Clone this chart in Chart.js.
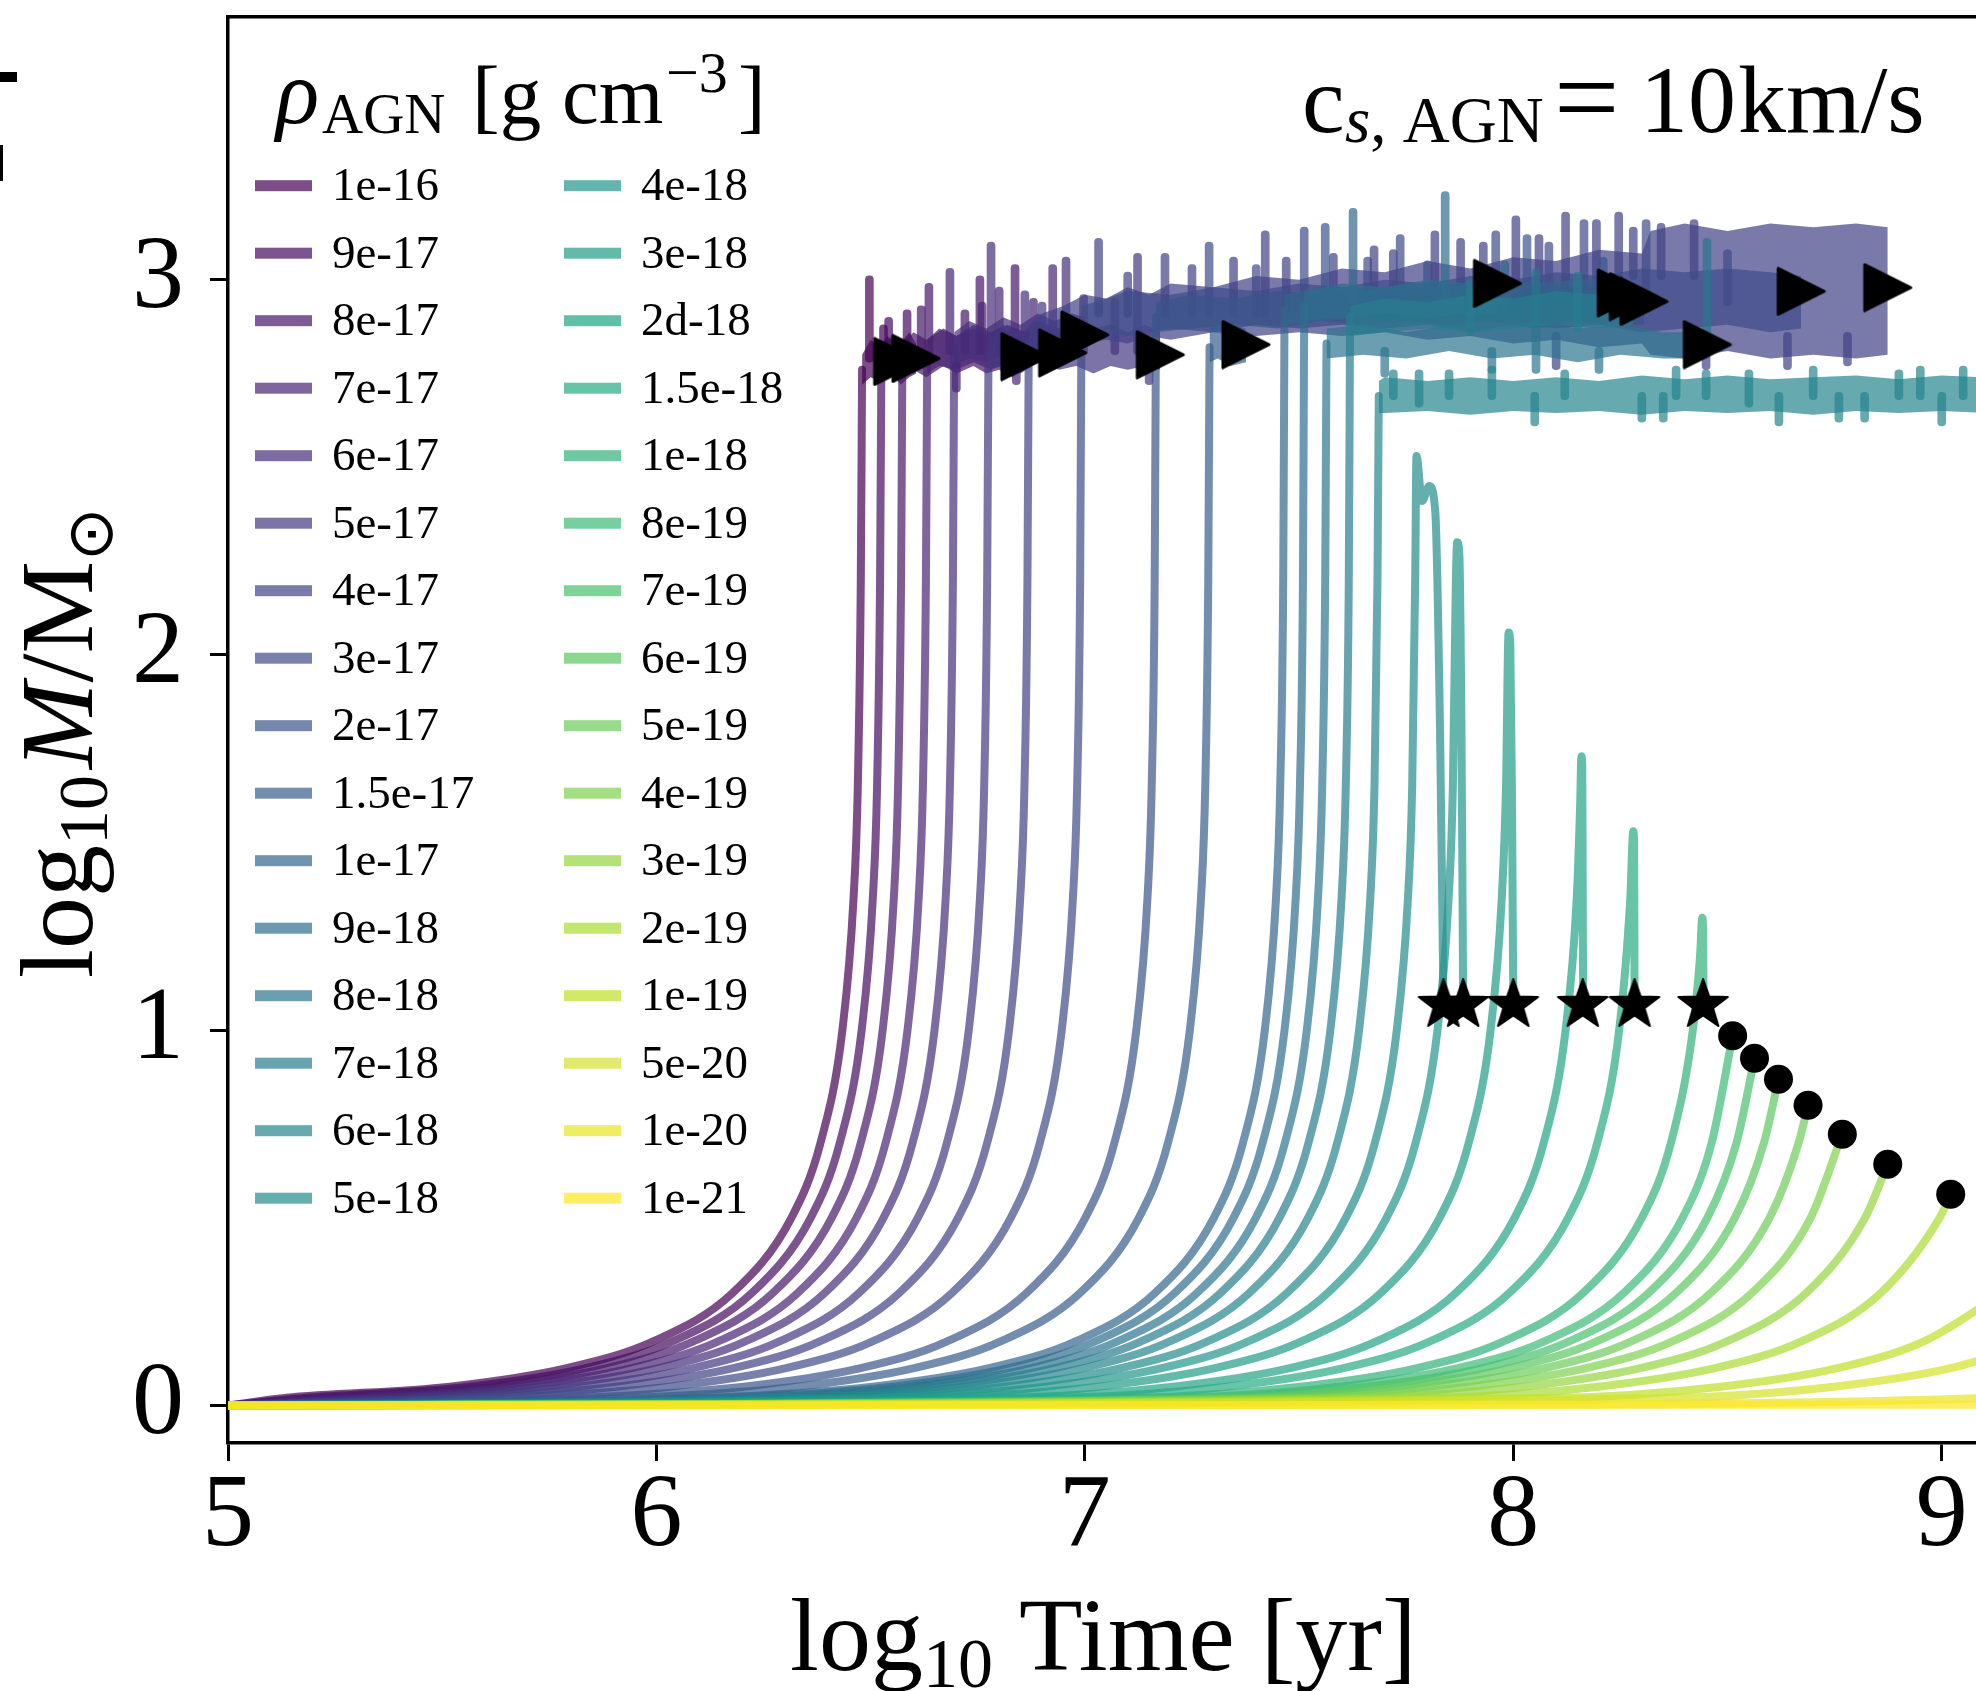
<!DOCTYPE html>
<html>
<head>
<meta charset="utf-8">
<script src="https://cdn.jsdelivr.net/npm/chart.js@4.4.1/dist/chart.umd.min.js"></script>
<style>
  html, body { margin: 0; padding: 0; background: #fff; overflow: hidden; }
</style>
</head>
<body>
<canvas id="mass-chart" width="1976" height="1691"></canvas>
<script>
// AGN densities, one run each (legend order)
const densityLabels = ['1e-16', '9e-17', '8e-17', '7e-17', '6e-17', '5e-17', '4e-17', '3e-17',
  '2e-17', '1.5e-17', '1e-17', '9e-18', '8e-18', '7e-18', '6e-18', '5e-18',
  '4e-18', '3e-18', '2d-18', '1.5e-18', '1e-18', '8e-19', '7e-19', '6e-19',
  '5e-19', '4e-19', '3e-19', '2e-19', '1e-19', '5e-20', '1e-20', '1e-21'];

const xTicks = [5, 6, 7, 8, 9];
const yTicks = [0, 1, 2, 3];

// growth phase of every run: [log10 t, log10 M/Msun]
const growth = [
  [[5,0],[5.133,.02],[5.518,.05],[5.793,.1],[5.991,.17],[6.178,.3],[6.315,.5],[6.383,.7],[6.434,1],[6.460,1.35],[6.470,1.65],[6.477,2.2],[6.480,2.76]],
  [[5,0],[5.178,.02],[5.563,.05],[5.838,.1],[6.036,.17],[6.223,.3],[6.360,.5],[6.428,.7],[6.479,1],[6.505,1.35],[6.515,1.65],[6.522,2.2],[6.525,2.77]],
  [[5,0],[5.227,.02],[5.612,.05],[5.887,.1],[6.085,.17],[6.272,.3],[6.409,.5],[6.477,.7],[6.528,1],[6.554,1.35],[6.564,1.65],[6.571,2.2],[6.574,2.78]],
  [[5,0],[5.285,.02],[5.670,.05],[5.945,.1],[6.143,.17],[6.330,.3],[6.467,.5],[6.535,.7],[6.586,1],[6.612,1.35],[6.622,1.65],[6.629,2.2],[6.632,2.79]],
  [[5,0],[5.348,.02],[5.733,.05],[6.008,.1],[6.206,.17],[6.393,.3],[6.530,.5],[6.598,.7],[6.649,1],[6.675,1.35],[6.685,1.65],[6.692,2.2],[6.695,2.82]],
  [[5,0],[5.428,.02],[5.813,.05],[6.088,.1],[6.286,.17],[6.473,.3],[6.610,.5],[6.678,.7],[6.729,1],[6.755,1.35],[6.765,1.65],[6.772,2.2],[6.775,2.80]],
  [[5,0],[5.522,.02],[5.907,.05],[6.182,.1],[6.380,.17],[6.567,.3],[6.704,.5],[6.772,.7],[6.823,1],[6.849,1.35],[6.859,1.65],[6.866,2.2],[6.869,2.83]],
  [[5,0],[5.645,.02],[6.030,.05],[6.305,.1],[6.503,.17],[6.690,.3],[6.827,.5],[6.895,.7],[6.946,1],[6.972,1.35],[6.982,1.65],[6.989,2.2],[6.992,2.88]],
  [[5,0],[5.819,.02],[6.204,.05],[6.479,.1],[6.677,.17],[6.864,.3],[7.001,.5],[7.069,.7],[7.120,1],[7.146,1.35],[7.156,1.65],[7.163,2.2],[7.166,2.90]],
  [[5,0],[5.944,.02],[6.329,.05],[6.604,.1],[6.802,.17],[6.989,.3],[7.126,.5],[7.194,.7],[7.245,1],[7.271,1.35],[7.281,1.65],[7.288,2.2],[7.291,2.82]],
  [[5,0],[6.119,.02],[6.504,.05],[6.779,.1],[6.977,.17],[7.164,.3],[7.301,.5],[7.369,.7],[7.420,1],[7.446,1.35],[7.456,1.65],[7.463,2.2],[7.466,2.92]],
  [[5,0],[6.165,.02],[6.550,.05],[6.825,.1],[7.023,.17],[7.210,.3],[7.347,.5],[7.415,.7],[7.466,1],[7.492,1.35],[7.502,1.65],[7.509,2.2],[7.512,2.93]],
  [[5,0],[6.217,.02],[6.602,.05],[6.877,.1],[7.075,.17],[7.262,.3],[7.399,.5],[7.467,.7],[7.518,1],[7.544,1.35],[7.554,1.65],[7.561,2.2],[7.564,2.83]],
  [[5,0],[6.272,.02],[6.657,.05],[6.932,.1],[7.130,.17],[7.317,.3],[7.454,.5],[7.522,.7],[7.573,1],[7.599,1.35],[7.609,1.65],[7.616,2.2],[7.619,2.90]],
  [[5,0],[6.339,.02],[6.724,.05],[6.999,.1],[7.197,.17],[7.384,.3],[7.521,.5],[7.589,.7],[7.640,1],[7.666,1.35],[7.676,1.65],[7.683,2.2],[7.686,2.69]],
  [[5,0],[6.427,.02],[6.812,.05],[7.087,.1],[7.285,.17],[7.472,.3],[7.609,.5],[7.677,.7],[7.728,1],[7.754,1.35],[7.764,1.65],[7.771,2.2],[7.774,2.53],[7.787,2.41],[7.804,2.45],[7.818,2.38],[7.829,1.8],[7.837,1.07]],
  [[5,0],[6.522,.02],[6.907,.05],[7.182,.1],[7.380,.17],[7.567,.3],[7.704,.5],[7.772,.7],[7.823,1],[7.849,1.35],[7.859,1.65],[7.866,2.2],[7.869,2.30],[7.874,2.27],[7.879,1.8],[7.883,1.07]],
  [[5,0],[6.646,.02],[7.031,.05],[7.306,.1],[7.504,.17],[7.691,.3],[7.828,.5],[7.896,.7],[7.947,1],[7.973,1.35],[7.983,1.65],[7.989,2.06],[7.993,2.03],[7.997,1.6],[8.000,1.07]],
  [[5,0],[6.821,.02],[7.206,.05],[7.481,.1],[7.679,.17],[7.866,.3],[8.003,.5],[8.071,.7],[8.122,1],[8.148,1.35],[8.156,1.6],[8.159,1.73],[8.161,1.70],[8.162,1.4],[8.163,1.07]],
  [[5,0],[6.946,.02],[7.331,.05],[7.606,.1],[7.804,.17],[7.991,.3],[8.128,.5],[8.196,.7],[8.247,1],[8.273,1.35],[8.280,1.53],[8.282,1.50],[8.283,1.07]],
  [[5,0],[7.118,.02],[7.503,.05],[7.778,.1],[7.976,.17],[8.163,.3],[8.300,.5],[8.368,.7],[8.419,1],[8.436,1.2],[8.441,1.30],[8.443,1.27],[8.444,1.07]],
  [[5,0],[7.213,.02],[7.598,.05],[7.873,.1],[8.071,.17],[8.258,.3],[8.395,.5],[8.463,.7],[8.512,.985]],
  [[5,0],[7.271,.02],[7.656,.05],[7.931,.1],[8.129,.17],[8.316,.3],[8.453,.5],[8.521,.7],[8.563,.925]],
  [[5,0],[7.335,.02],[7.720,.05],[7.995,.1],[8.193,.17],[8.380,.3],[8.517,.5],[8.585,.7],[8.619,.869]],
  [[5,0],[7.416,.02],[7.801,.05],[8.076,.1],[8.274,.17],[8.461,.3],[8.598,.5],[8.666,.7],[8.688,.800]],
  [[5,0],[7.512,.02],[7.897,.05],[8.172,.1],[8.370,.17],[8.557,.3],[8.694,.5],[8.768,.723]],
  [[5,0],[7.639,.02],[8.024,.05],[8.299,.1],[8.497,.17],[8.684,.3],[8.821,.5],[8.874,.643]],
  [[5,0],[7.813,.02],[8.198,.05],[8.473,.1],[8.671,.17],[8.858,.3],[8.995,.5],[9.021,.563]],
  [[5,0],[8.099,.02],[8.484,.05],[8.759,.1],[8.957,.17],[9.144,.3]],
  [[5,0],[8.363,.02],[8.748,.05],[9.023,.1],[9.221,.17]],
  [[5,0],[8.0,.002],[9.103,.02],[9.3,.032]],
  [[5,0],[9.2,.002]]
];

// noisy saturated phase (runs 0-14): band edges
const plateauX = [
  [6.480, 6.50, 6.52, 6.54, 6.563],
  [6.525, 6.55, 6.57, 6.59, 6.606],
  [6.574, 6.60, 6.63, 6.67, 6.70, 6.74, 6.77, 6.80, 6.83, 6.860],
  [6.632, 6.66, 6.70, 6.74, 6.78, 6.82, 6.86, 6.90, 6.948],
  [6.695, 6.73, 6.77, 6.81, 6.85, 6.89, 6.93, 6.97, 7.000],
  [6.775, 6.81, 6.85, 6.89, 6.94, 6.98, 7.02, 7.06, 7.10, 7.14, 7.176],
  [6.869, 6.90, 6.95, 7.0, 7.05, 7.1, 7.15, 7.2, 7.3, 7.4, 7.5, 7.6, 7.7, 7.8, 7.9, 8.0, 8.1, 8.2, 8.3, 8.32, 8.4, 8.5, 8.6, 8.7, 8.8, 8.874],
  [6.992, 7.05, 7.1, 7.2, 7.3, 7.4, 7.5, 7.6, 7.7, 7.8, 7.9, 8.0, 8.1, 8.2, 8.3, 8.4, 8.5, 8.6, 8.672],
  [7.166, 7.25, 7.35, 7.45, 7.55, 7.65, 7.75, 7.85, 7.95, 8.05, 8.15, 8.25, 8.305],
  [7.291, 7.31, 7.34, 7.376],
  [7.466, 7.55, 7.65, 7.75, 7.85, 7.95, 8.05, 8.15, 8.252],
  [7.512, 7.6, 7.7, 7.8, 7.9, 7.963],
  [7.564, 7.65, 7.75, 7.85, 7.95, 8.05, 8.15, 8.25, 8.35, 8.453],
  [7.619, 7.7, 7.8, 7.9, 8.0, 8.1, 8.2, 8.28],
  [7.686, 7.70, 7.8, 7.9, 8.0, 8.1, 8.2, 8.3, 8.4, 8.5, 8.6, 8.7, 8.8, 8.9, 9.0, 9.1]
];
const plateauHi = [
  [2.80, 2.84, 2.82, 2.85, 2.82],
  [2.82, 2.85, 2.83, 2.86, 2.83],
  [2.83, 2.86, 2.84, 2.87, 2.85, 2.87, 2.85, 2.87, 2.86, 2.84],
  [2.84, 2.87, 2.85, 2.88, 2.86, 2.88, 2.86, 2.88, 2.86],
  [2.86, 2.89, 2.87, 2.90, 2.88, 2.91, 2.89, 2.91, 2.90],
  [2.85, 2.88, 2.86, 2.89, 2.87, 2.89, 2.87, 2.88, 2.86, 2.88, 2.86],
  [2.88, 2.91, 2.93, 2.96, 2.95, 2.98, 2.96, 2.99, 2.98, 3.01, 3.00, 3.03, 3.02, 3.05, 3.03, 3.06, 3.05, 3.08, 3.07, 3.13, 3.15, 3.13, 3.15, 3.14, 3.15, 3.14],
  [2.93, 2.95, 2.97, 2.96, 2.98, 2.97, 2.99, 2.98, 3.00, 2.99, 3.01, 3.00, 3.02, 3.01, 3.03, 3.02, 3.03, 3.02, 3.01],
  [2.94, 2.96, 2.95, 2.97, 2.96, 2.98, 2.97, 2.99, 2.98, 2.99, 2.98, 2.99, 2.98],
  [2.87, 2.89, 2.88, 2.87],
  [2.96, 2.98, 2.97, 2.99, 2.98, 3.00, 2.99, 3.00, 3.00],
  [2.97, 2.99, 2.98, 3.00, 2.99, 3.01],
  [2.87, 2.88, 2.86, 2.88, 2.87, 2.89, 2.87, 2.88, 2.86, 2.86],
  [2.93, 2.95, 2.94, 2.96, 2.95, 2.97, 2.96, 2.97],
  [2.73, 2.74, 2.73, 2.74, 2.73, 2.74, 2.73, 2.745, 2.735, 2.745, 2.735, 2.74, 2.745, 2.735, 2.745, 2.74]
];
const plateauLo = [
  [2.72, 2.74, 2.73, 2.75, 2.74],
  [2.73, 2.75, 2.72, 2.74, 2.75],
  [2.74, 2.76, 2.74, 2.77, 2.75, 2.77, 2.75, 2.76, 2.74, 2.76],
  [2.75, 2.77, 2.76, 2.78, 2.76, 2.78, 2.77, 2.78, 2.77],
  [2.77, 2.79, 2.78, 2.80, 2.79, 2.81, 2.80, 2.81, 2.81],
  [2.76, 2.77, 2.75, 2.78, 2.76, 2.77, 2.75, 2.77, 2.76, 2.77, 2.76],
  [2.79, 2.81, 2.80, 2.83, 2.84, 2.83, 2.85, 2.84, 2.86, 2.85, 2.86, 2.85, 2.86, 2.84, 2.85, 2.83, 2.84, 2.82, 2.83, 2.80, 2.79, 2.81, 2.79, 2.80, 2.79, 2.80],
  [2.84, 2.86, 2.85, 2.87, 2.86, 2.88, 2.87, 2.88, 2.87, 2.88, 2.86, 2.88, 2.87, 2.88, 2.86, 2.87, 2.88, 2.86, 2.87],
  [2.86, 2.87, 2.88, 2.87, 2.89, 2.88, 2.89, 2.88, 2.89, 2.87, 2.89, 2.88, 2.88],
  [2.78, 2.79, 2.77, 2.78],
  [2.88, 2.89, 2.90, 2.89, 2.90, 2.89, 2.90, 2.89, 2.90],
  [2.89, 2.90, 2.91, 2.90, 2.91, 2.91],
  [2.79, 2.80, 2.79, 2.81, 2.79, 2.80, 2.78, 2.80, 2.79, 2.79],
  [2.85, 2.86, 2.87, 2.86, 2.87, 2.88, 2.87, 2.88],
  [2.645, 2.645, 2.65, 2.64, 2.65, 2.645, 2.65, 2.64, 2.65, 2.645, 2.65, 2.64, 2.65, 2.645, 2.65, 2.645]
];
// single excursions out of the band: [log10 t, from, to]
const spikes = [
  [[6.497, 2.78, 3.01], [6.530, 2.78, 2.88]],
  [[6.542, 2.78, 2.90], [6.585, 2.78, 2.92]],
  [[6.618, 2.80, 2.93], [6.636, 2.80, 2.99], [6.72, 2.80, 2.92], [6.755, 2.80, 3.01], [6.837, 2.80, 3.04], [6.70, 2.70, 2.78]],
  [[6.685, 2.80, 3.03], [6.76, 2.80, 2.94], [6.800, 2.80, 2.98], [6.88, 2.80, 2.95], [6.925, 2.80, 3.04], [6.84, 2.72, 2.80]],
  [[6.781, 2.83, 3.10], [6.86, 2.83, 2.97], [6.956, 2.84, 3.06]],
  [[6.90, 2.80, 2.94], [6.997, 2.80, 2.96], [7.07, 2.80, 2.95], [7.123, 2.80, 3.07], [7.15, 2.72, 2.80]],
  [[7.032, 2.90, 3.11], [7.10, 2.90, 3.02], [7.187, 2.90, 3.07], [7.25, 2.90, 3.04], [7.347, 2.90, 3.06],
   [7.421, 2.90, 3.13], [7.47, 2.92, 3.06], [7.58, 2.92, 3.07], [7.675, 2.92, 3.09], [7.72, 2.92, 3.08],
   [7.817, 2.95, 3.13], [7.877, 2.95, 3.11], [7.93, 2.95, 3.10], [8.006, 2.95, 3.17], [8.06, 2.95, 3.12],
   [8.122, 2.95, 3.18], [8.194, 2.95, 3.16], [8.246, 3.00, 3.18], [8.28, 3.00, 3.14], [8.345, 3.00, 3.15],
   [8.422, 3.00, 3.16], [8.10, 2.76, 2.86], [8.45, 2.76, 2.84], [8.64, 2.76, 2.86], [8.78, 2.77, 2.86]],
  [[7.290, 2.90, 3.10], [7.40, 2.90, 3.04], [7.512, 2.92, 3.14], [7.66, 2.92, 3.06], [7.736, 2.92, 3.12],
   [7.959, 2.93, 3.13], [8.083, 2.93, 3.10], [8.165, 2.93, 3.16], [8.310, 2.93, 3.16], [8.50, 2.93, 3.08]],
  [[7.561, 2.92, 3.15], [7.80, 2.92, 3.05], [8.032, 2.92, 3.12], [8.21, 2.92, 3.06]],
  [],
  [[7.626, 2.92, 3.19], [7.98, 2.92, 3.05]],
  [[7.841, 2.93, 3.235]],
  [[8.053, 2.75, 3.03], [8.452, 2.80, 3.11], [7.70, 2.74, 2.82], [7.95, 2.75, 2.82], [8.20, 2.75, 2.82]],
  [[7.900, 2.85, 3.00], [8.15, 2.86, 3.02]],
  [[7.72, 2.68, 2.76], [7.78, 2.66, 2.76], [7.85, 2.68, 2.76], [7.95, 2.68, 2.77], [8.05, 2.61, 2.70],
   [8.12, 2.68, 2.76], [8.30, 2.62, 2.70], [8.35, 2.62, 2.70], [8.38, 2.68, 2.77], [8.45, 2.68, 2.76],
   [8.55, 2.66, 2.76], [8.62, 2.61, 2.70], [8.70, 2.68, 2.77], [8.76, 2.62, 2.70], [8.82, 2.62, 2.70],
   [8.90, 2.68, 2.76], [8.95, 2.68, 2.77], [9.00, 2.61, 2.70], [9.05, 2.68, 2.77]]
];

// end-of-run markers
const triX = [6.563, 6.606, 6.860, 6.948, 7.000, 7.176, 8.874, 8.672, 8.305, 7.376, 8.252, 7.963, 8.453, 8.28];
const triY = [2.782, 2.790, 2.795, 2.805, 2.853, 2.800, 2.979, 2.969, 2.942, 2.827, 2.965, 2.990, 2.827, 2.955];
const starX = [7.837, 7.883, 8.000, 8.162, 8.283, 8.443];
const starY = [1.07, 1.07, 1.07, 1.07, 1.07, 1.07];
const dotX = [8.512, 8.563, 8.619, 8.688, 8.768, 8.874, 9.021];
const dotY = [0.985, 0.925, 0.869, 0.800, 0.723, 0.643, 0.563];

// viridis colour map with alpha, like the original plot
const viridisStops = ['#440154', '#482475', '#414487', '#355f8d', '#2a788e', '#21918c',
  '#22a884', '#44bf70', '#7ad151', '#bddf26', '#fde725'];
function viridis(t, a) {
  const p = t * 10;
  const i = Math.min(9, Math.floor(p));
  const f = p - i;
  const c0 = parseInt(viridisStops[i].slice(1), 16);
  const c1 = parseInt(viridisStops[i + 1].slice(1), 16);
  const ch = (c, s) => (c >> s) & 255;
  const mix = s => Math.round(ch(c0, s) + (ch(c1, s) - ch(c0, s)) * f);
  return `rgba(${mix(16)},${mix(8)},${mix(0)},${a})`;
}
const colors = densityLabels.map((_, i) => viridis(i / (densityLabels.length - 1), 0.7));

function markerCanvas(w, h, draw) {
  const c = document.createElement('canvas');
  c.width = w; c.height = h;
  const g = c.getContext('2d');
  g.fillStyle = '#000';
  g.strokeStyle = '#000';
  draw(g);
  return c;
}
const triImg = markerCanvas(52, 50, g => {
  g.lineJoin = 'round'; g.lineWidth = 3;
  g.beginPath(); g.moveTo(3, 2); g.lineTo(49, 25); g.lineTo(3, 48); g.closePath();
  g.fill(); g.stroke();
});
const starImg = markerCanvas(58, 58, g => {
  g.beginPath();
  for (let k = 0; k < 10; k++) {
    const r = k % 2 === 0 ? 26 : 10.5;
    const a = -Math.PI / 2 + k * Math.PI / 5;
    const px = 29 + r * Math.cos(a), py = 30 + r * Math.sin(a);
    if (k === 0) g.moveTo(px, py); else g.lineTo(px, py);
  }
  g.closePath(); g.lineJoin = 'round'; g.lineWidth = 2; g.fill(); g.stroke();
});

const LW = 8;
const datasets = [];
growth.forEach((pts, i) => {
  const order = 100 - i;
  datasets.push({
    type: 'line', label: densityLabels[i], data: pts, order,
    borderColor: colors[i], borderWidth: LW, borderCapStyle: 'round', borderJoinStyle: 'round',
    cubicInterpolationMode: 'monotone', pointRadius: 0, fill: false
  });
  if (plateauX[i]) {
    datasets.push({
      type: 'line', data: plateauX[i].map((x, k) => [x, plateauHi[i][k]]), order,
      borderColor: 'transparent', pointRadius: 0, fill: false, tension: 0
    });
    datasets.push({
      type: 'line', data: plateauX[i].map((x, k) => [x, plateauLo[i][k]]), order,
      borderColor: 'transparent', backgroundColor: colors[i], pointRadius: 0, fill: '-1', tension: 0
    });
    datasets.push({
      type: 'bar', data: spikes[i].map(s => ({ x: s[0], y: [s[1], s[2]] })), order,
      backgroundColor: colors[i], barThickness: LW, borderRadius: 4, borderSkipped: false, grouped: false
    });
  }
});
datasets.push({
  type: 'scatter', data: triX.map((x, k) => ({ x, y: triY[k] })), order: -1,
  pointStyle: triImg, pointRadius: 25
});
datasets.push({
  type: 'scatter', data: starX.map((x, k) => ({ x, y: starY[k] })), order: -1,
  pointStyle: starImg, pointRadius: 25
});
datasets.push({
  type: 'scatter', data: dotX.map((x, k) => ({ x, y: dotY[k] })), order: -1,
  pointStyle: 'circle', pointRadius: 14.5, backgroundColor: '#000', borderWidth: 0
});

const SERIF = '"Liberation Serif", "Times New Roman", serif';

function drawParts(ctx, x, y, parts) {
  let cx = x;
  for (const p of parts) {
    ctx.font = p.font;
    if (p.at !== undefined) cx = p.at;
    ctx.fillText(p.text, cx, y + (p.dy || 0));
    cx += ctx.measureText(p.text).width + (p.gap || 0);
  }
}

const textPlugin = {
  id: 'figureText',
  afterDraw(chart) {
    const { ctx } = chart;
    ctx.save();
    ctx.fillStyle = '#000';
    ctx.textBaseline = 'alphabetic';
    ctx.textAlign = 'left';

    // x axis title
    drawParts(ctx, 790, 1670, [
      { text: 'log', font: `104px ${SERIF}` },
      { text: '10', font: `70px ${SERIF}`, dy: 17 },
      { text: ' Time [yr]', font: `104px ${SERIF}` }
    ]);

    // y axis title (rotated)
    ctx.save();
    ctx.translate(92, 978);
    ctx.rotate(-Math.PI / 2);
    drawParts(ctx, 0, 0, [
      { text: 'log', font: `104px ${SERIF}` },
      { text: '10', font: `70px ${SERIF}`, dy: 15, gap: 6 },
      { text: 'M', font: `italic 104px ${SERIF}` },
      { text: '/', font: `104px ${SERIF}` },
      { text: 'M', font: `104px ${SERIF}` },
      { text: '\u2299', font: '64px "DejaVu Sans"', dy: 20 }
    ]);
    ctx.restore();

    // legend title
    drawParts(ctx, 276, 123, [
      { text: '\u03c1', font: `italic 90px ${SERIF}` },
      { text: 'AGN', font: `57px ${SERIF}`, dy: 10, at: 322 },
      { text: '[g cm', font: `83px ${SERIF}`, at: 472 },
      { text: '\u22123', font: `58px ${SERIF}`, dy: -31, at: 666 },
      { text: ']', font: `83px ${SERIF}`, at: 738 }
    ]);

    // legend entries, two columns of 16
    ctx.font = `47px ${SERIF}`;
    ctx.textBaseline = 'middle';
    densityLabels.forEach((lab, i) => {
      const col = Math.floor(i / 16), row = i % 16;
      const y = 185.7 + row * 67.5;
      const hx = col === 0 ? 255 : 564;
      ctx.fillStyle = colors[i];
      ctx.fillRect(hx, y - 5.5, 57, 11);
      ctx.fillStyle = '#000';
      ctx.fillText(lab, hx + 77, y + 2);
    });

    // sound speed annotation
    ctx.textBaseline = 'alphabetic';
    drawParts(ctx, 1302, 132, [
      { text: 'c', font: `96px ${SERIF}` },
      { text: 's', font: `italic 65px ${SERIF}`, dy: 10, at: 1345 },
      { text: ', AGN', font: `65px ${SERIF}`, dy: 10 },
      { text: '=', font: `116px ${SERIF}`, dy: 4, at: 1554 },
      { text: '10', font: `96px ${SERIF}`, at: 1640 },
      { text: 'km/s', font: `96px ${SERIF}`, at: 1738 }
    ]);

    // fragments of the neighbouring panel at the left edge
    ctx.fillRect(0, 72, 17, 10);
    ctx.fillRect(0, 145, 3, 36);
    ctx.restore();
  }
};

Chart.defaults.font.family = SERIF;
Chart.defaults.color = '#000';

new Chart(document.getElementById('mass-chart'), {
  type: 'line',
  data: { datasets },
  options: {
    responsive: false,
    animation: false,
    devicePixelRatio: 1,
    layout: { autoPadding: false, padding: { left: 0, right: 0, top: 17, bottom: 0 } },
    plugins: { legend: { display: false }, tooltip: { enabled: false } },
    scales: {
      x: {
        type: 'linear', position: 'bottom', min: 5, max: 9.08, offset: false,
        afterBuildTicks: s => { s.ticks = xTicks.map(v => ({ value: v })); },
        afterFit: s => { s.height = 248; s.paddingLeft = 0; s.paddingRight = 0; },
        ticks: { font: { size: 104, lineHeight: 1 }, padding: 5, maxRotation: 0, autoSkip: false, color: '#000' },
        grid: { offset: false, drawOnChartArea: false, drawTicks: true, tickLength: 18, tickWidth: 3, tickColor: '#000' },
        border: { display: true, width: 3.5, color: '#000' }
      },
      x2: {
        type: 'linear', position: 'top', min: 5, max: 9.08,
        afterFit: s => { s.height = 0; s.paddingLeft = 0; s.paddingRight = 0; },
        ticks: { display: false },
        grid: { display: false, offset: false },
        border: { display: true, width: 3.5, color: '#000' }
      },
      y: {
        type: 'linear', position: 'left', min: -0.1, max: 3.7,
        afterBuildTicks: s => { s.ticks = yTicks.map(v => ({ value: v })); },
        afterFit: s => { s.width = 228; s.paddingTop = 0; s.paddingBottom = 0; },
        ticks: { font: { size: 104, lineHeight: 1 }, padding: 26, color: '#000' },
        grid: { drawOnChartArea: false, drawTicks: true, tickLength: 18, tickWidth: 3, tickColor: '#000' },
        border: { display: true, width: 3.5, color: '#000' }
      }
    }
  },
  plugins: [textPlugin]
});
</script>
</body>
</html>
